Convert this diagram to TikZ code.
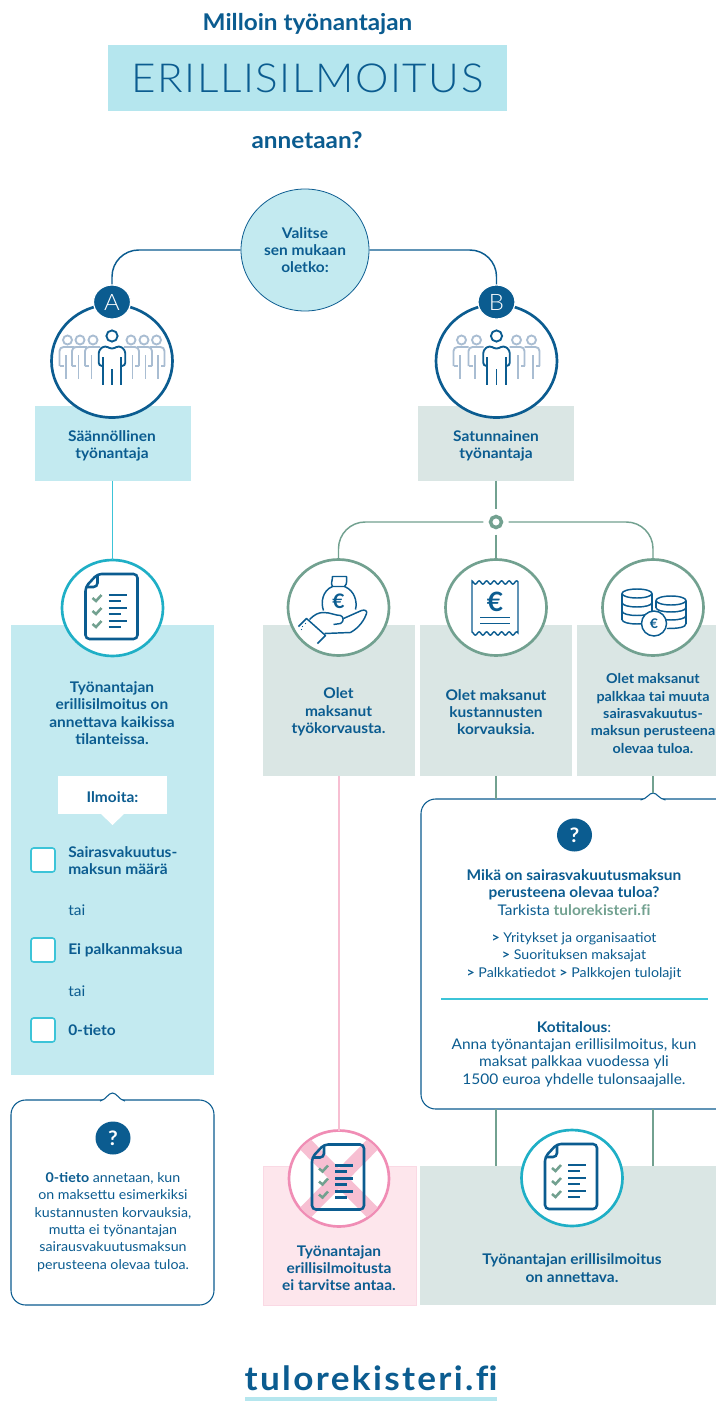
\documentclass[tikz,border=0pt]{standalone}
\usepackage{fontspec}
\setmainfont[FakeStretch=1.055]{Lato}
\newfontfamily\lightfont[FakeStretch=1.055]{Lato Light}
\usetikzlibrary{shapes.geometric}
\definecolor{navy}{HTML}{0B5C90}
\definecolor{pale}{HTML}{A9BDD2}
\definecolor{sky}{HTML}{C3EAF0}
\definecolor{skyd}{HTML}{B5E6EE}
\definecolor{mist}{HTML}{DAE6E4}
\definecolor{sage}{HTML}{72A190}
\definecolor{teal}{HTML}{1FAFC6}
\definecolor{cyan2}{HTML}{3CC4D8}
\definecolor{blush}{HTML}{FDE6EC}
\definecolor{rose}{HTML}{F08DB5}
\definecolor{rosex}{HTML}{F7BFD2}
\def\px{0.75pt}

\begin{document}
\begin{tikzpicture}[x=0.75pt, y=-0.75pt,
  bx/.style={rectangle, inner sep=0pt, outer sep=0pt},
  ring/.style={draw, ellipse, fill=white, inner sep=0pt, outer sep=0pt, line width=2pt, minimum width=101*\px, minimum height=96*\px},
  ringbig/.style={ring, minimum width=121*\px, minimum height=113*\px},
  badge/.style={ellipse, fill=navy, inner sep=0pt, text=white},
  note/.style={draw=navy, fill=white, rectangle, rounded corners=11pt, line width=0.8pt, inner sep=0pt, outer sep=0pt},
  tick/.style={draw=cyan2, fill=white, rounded corners=2pt, line width=1.2pt, inner sep=0pt, minimum width=24*\px, minimum height=24*\px},
  txt/.style={text=navy, align=center, inner sep=0pt, font=\fontsize{11}{13}\selectfont\bfseries},
  txtr/.style={text=navy, align=center, inner sep=0pt, font=\fontsize{11}{13}\selectfont},
  txts/.style={txtr, font=\fontsize{10.1}{13}\selectfont},
  wire/.style={line width=1.1pt, rounded corners=20pt}
]
\useasboundingbox[fill=white] (0,0) rectangle (716,1401);

\def\docicon#1#2{
  \begin{scope}[shift={(#1,#2)}, line width=1.9pt, draw=navy]
    \draw[rounded corners=3pt] (-15,-34) -- (25,-34) -- (25,31) -- (-27,31) -- (-27,-21) -- cycle;
    \draw[rounded corners=3pt] (-15,-33) -- (-15,-21) -- (-26,-21);
    \foreach \y in {-10,3,16} \draw[sage] (-20,\y) -- (-16.5,\y+3) -- (-11,\y-3);
    \foreach \y in {-13,0,13} \draw (-4,\y) -- (14,\y);
    \foreach \y in {-7,6,19} \draw (-4,\y) -- (8,\y);
  \end{scope}
}
\def\peopleicon#1#2#3{
  \begin{scope}[shift={(#1,#2)}, line width=1.4pt]
    \foreach \s in {1,-1} \foreach \d in {#3} {
      \begin{scope}[xscale=\s, shift={(-\d,0)}]
        \draw[pale] (0,-21) circle [radius=4.5];
        \draw[pale, rounded corners=3pt] (7,-14) -- (-8,-14) -- (-8,5);
        \draw[pale] (-8,5) -- (-4,5);
        \draw[pale] (-1.5,-6) -- (-1.5,18);
      \end{scope}
    }
    \draw[navy, fill=white] (0,-25) circle [radius=5.6];
    \draw[navy, rounded corners=2.5pt, fill=white] (-9.3,5) -- (-13.3,5) -- (-13.3,-11) -- (-7,-15.5) -- (0,-11.5) -- (7,-15.5) -- (13.3,-11) -- (13.3,5) -- (9.3,5);
    \foreach \x in {-9.3,0,9.3} \draw[navy] (\x,{\x==0 ? 8 : -4}) -- (\x,24);
  \end{scope}
}

% titles
\node[txt, font=\fontsize{17.3}{20}\selectfont\bfseries] (title1) at (307.5,24) {Milloin työnantajan};
\node[bx, fill=skyd, minimum width=399*\px, minimum height=66*\px] (titlebox) at (307.5,78) {};
\node[text=navy, inner sep=0pt, font=\fontsize{30}{32}\selectfont\lightfont] (title2) at (307.5,78) {\addfontfeature{LetterSpace=4}ERILLISILMOITUS};
\node[txt, font=\fontsize{17.3}{20}\selectfont\bfseries] (title3) at (307,140) {annetaan?};

% start and the two employers
\node[draw=navy, fill=sky, ellipse, inner sep=0pt, line width=0.6pt, minimum width=128*\px, minimum height=122*\px] (start) at (305,250) {};
\node[txt] (starttxt) at (305,250) {Valitse\\sen mukaan\\oletko:};

\node[bx, fill=sky, minimum width=156*\px, minimum height=75*\px] (boxA) at (112.5,443) {};
\node[bx, fill=mist, minimum width=156*\px, minimum height=75*\px] (boxB) at (496,443) {};
\node[ringbig, draw=navy] (ringA) at (112,361) {};
\node[ringbig, draw=navy] (ringB) at (496.5,361) {};
\node[badge, minimum width=37*\px, minimum height=34*\px, draw=white, line width=0.9pt, font=\fontsize{17}{17}\selectfont\lightfont] (badgeA) at (112,302) {A};
\node[badge, minimum width=37*\px, minimum height=34*\px, draw=white, line width=0.9pt, font=\fontsize{17}{17}\selectfont\lightfont] (badgeB) at (496.5,302) {B};
\draw[wire, navy] (start.west) -| (badgeA.north);
\draw[wire, navy] (start.east) -| (badgeB.north);
\peopleicon{112}{361}{19,32,44.5}
\peopleicon{496.5}{361}{20,35}
\node[txt] (boxAtxt) at (112,446) {Säännöllinen\\työnantaja};
\node[txt] (boxBtxt) at (496,446) {Satunnainen\\työnantaja};

% column A
\node[bx, fill=sky, minimum width=203*\px, minimum height=450*\px] (colA) at (112.5,850) {};
\node[ring, draw=teal] (ringdoc) at (112.5,608) {};
\draw[cyan2, line width=1.1pt] (boxA.south) -- (ringdoc.north);
\docicon{112.5}{608}
\node[txt] (colAtxt) at (112,713) {Työnantajan\\erillisilmoitus on\\annettava kaikissa\\tilanteissa.};
\node[bx, fill=white, minimum width=109*\px, minimum height=38*\px] (ilmoita) at (112.5,795) {};
\fill[white] (100,813) -- (112.5,825) -- (125,813) -- cycle;
\node[txt] (ilmoitatxt) at (112.5,797) {Ilmoita:};
\node[tick] (tick1) at (43,860) {};
\node[tick] (tick2) at (43,950) {};
\node[tick] (tick3) at (43,1030) {};
\node[txt, anchor=west, align=left] (tick1txt) at (68,860.5) {Sairasvakuutus-\\maksun määrä};
\node[txtr, anchor=west] (tai1) at (68,910) {tai};
\node[txt, anchor=west] (tick2txt) at (68,950) {Ei palkanmaksua};
\node[txtr, anchor=west] (tai2) at (68,991) {tai};
\node[txt, anchor=west] (tick3txt) at (68,1030) {0-tieto};

% note under column A
\node[note, minimum width=203*\px, minimum height=205*\px] (noteL) at (112.5,1202.5) {};
\draw[navy, fill=white, line width=0.8pt] (100,1101) .. controls (106,1100) and (108,1093) .. (112.5,1093) .. controls (117,1093) and (119,1100) .. (125,1101);
\node[badge, minimum width=35*\px, minimum height=33*\px, font=\fontsize{15}{15}\selectfont\bfseries] (helpL) at (113,1138) {?};
\node[txts] (noteLtxt) at (113,1222) {\textbf{0-tieto} annetaan, kun\\on maksettu esimerkiksi\\kustannusten korvauksia,\\mutta ei työnantajan\\sairausvakuutusmaksun\\perusteena olevaa tuloa.};

% column B
\node[draw=sage, fill=white, circle, line width=2.6pt, minimum size=11*\px, inner sep=0pt] (junc) at (496,522) {};
\node[bx, fill=mist, minimum width=152*\px, minimum height=151*\px] (col1) at (339,700.5) {};
\node[bx, fill=mist, minimum width=152*\px, minimum height=151*\px] (col2) at (496,700.5) {};
\node[bx, fill=mist, minimum width=140*\px, minimum height=151*\px] (col3) at (647,700.5) {};
\node[ring, draw=sage] (ring1) at (338.5,607.5) {};
\node[ring, draw=sage] (ring2) at (496,607.5) {};
\node[ring, draw=sage] (ring3) at (653,607.5) {};
\draw[sage, line width=1.1pt, shorten >=4pt] (boxB.south) -- (junc.north);
\draw[wire, sage, shorten <=4pt] (junc.west) -| (ring1.north);
\draw[wire, sage, shorten <=4pt] (junc.east) -| (ring3.north);
\draw[sage, line width=1.1pt, shorten <=4pt] (junc.south) -- (ring2.north);

\begin{scope}[shift={(338.5,607.5)}, navy, line width=1.1pt, line join=round]
  \draw (-6,-21) .. controls (-8,-24) and (-6,-27) .. (-6,-31) -- (8,-31) .. controls (8,-27) and (9,-24) .. (6,-21) -- cycle;
  \draw (-6,-21) .. controls (-16,-17) and (-18,-5) .. (-15,3);
  \draw (6,-21) .. controls (16,-17) and (19,-6) .. (17,2);
  \node[inner sep=0pt, font=\fontsize{15}{15}\selectfont\bfseries] (euro1) at (0,-6) {€};
  \draw (-29,12) .. controls (-24,7) and (-20,5) .. (-15,5) .. controls (-8,5) and (-3,8) .. (2,8) .. controls (5,9) and (6,14) .. (2,16) -- (-5,17);
  \draw (5,11) -- (23,3) .. controls (26,2) and (29,3) .. (28,6) .. controls (26,12) and (21,20) .. (12,25) -- (-14,26);
  \draw (-40,19) -- (-32,11) -- (-13,28) -- (-21,36);
  \foreach \x/\y in {-36/19,-33/16,-37/22} \fill (\x,\y) circle [radius=0.7];
\end{scope}

\begin{scope}[shift={(496,607.5)}, navy, line width=1.1pt]
  \draw plot[domain=-24:22, samples=70] (\x,{-25+1.6*sin(\x*48)}) -- plot[domain=22:-24, samples=70] (\x,{26+1.6*sin(\x*48)}) -- cycle;
  \node[inner sep=0pt, font=\fontsize{20}{20}\selectfont\bfseries] (euro2) at (-1,-6) {€};
  \draw (-16,10) -- (14,10);
  \draw (-16,16) -- (14,16);
\end{scope}

\begin{scope}[shift={(653,607.5)}, navy, line width=1.1pt]
  \draw (-16,-14) ellipse [x radius=15, y radius=4.5];
  \draw (-31,-14) -- (-31,12) (-1,-14) -- (-1,3);
  \foreach \y in {-5,3.5,12} \draw (-31,\y) .. controls (-31,\y+6) and (-1,\y+6) .. (-1,\y);
  \draw (18,-7) ellipse [x radius=15, y radius=4.5];
  \draw (3,-7) -- (3,0) (33,-7) -- (33,16);
  \foreach \y in {0,8} \draw (3,\y) .. controls (3,\y+6) and (33,\y+6) .. (33,\y);
  \draw (33,16) .. controls (33,20) and (25,21) .. (14,21);
  \node[circle, draw=navy, fill=white, line width=1.1pt, minimum size=25*\px, inner sep=0pt, font=\fontsize{10}{10}\selectfont\bfseries] (euro3) at (1,16) {€};
\end{scope}

\node[txt] (col1txt) at (338.5,712) {Olet\\maksanut\\työkorvausta.};
\node[txt] (col2txt) at (496,712) {Olet maksanut\\kustannusten\\korvauksia.};
\node[txt, font=\fontsize{10.2}{13}\selectfont\bfseries] (col3txt) at (653,713.5) {Olet maksanut\\palkkaa tai muuta\\sairasvakuutus-\\maksun perusteena\\olevaa tuloa.};

% results
\node[bx, fill=blush, draw=rosex!60, line width=0.6pt, minimum width=153*\px, minimum height=139*\px] (resno) at (339.5,1235.5) {};
\node[bx, fill=mist, minimum width=296*\px, minimum height=139*\px] (resyes) at (568,1235.5) {};
\node[ring, draw=rose, minimum width=100*\px] (ringno) at (339,1178.5) {};
\node[ring, draw=teal] (ringyes) at (572,1178) {};
\draw[rosex, line width=1.1pt] (col1.south) -- (ringno.north);
\begin{scope}
  \clip (339,1178.5) ellipse [x radius=49, y radius=47];
  \draw[rosex, line width=11pt] (304,1143) -- (374,1214) (374,1143) -- (304,1214);
\end{scope}
\docicon{339}{1178.5}
\docicon{572}{1178}
\node[txt] (resnotxt) at (339,1268) {Työnantajan\\erillisilmoitusta\\ei tarvitse antaa.};
\node[txt] (resyestxt) at (572,1268) {Työnantajan erillisilmoitus\\on annettava.};

% note in column B
\node[note, minimum width=310*\px, minimum height=310*\px] (noteR) at (576,954) {};
\draw[navy, fill=white, line width=0.8pt] (640.5,800) .. controls (647,799) and (649,793) .. (653,793) .. controls (657,793) and (659,799) .. (665.5,800);
\coordinate (tipR) at (653,793);
\draw[sage, line width=1.1pt] (col2.south) -- (col2.south |- noteR.north);
\draw[sage, line width=1.1pt] (col2.south |- noteR.south) -- (col2.south |- resyes.north);
\draw[sage, line width=1.1pt] (col3.south -| tipR) -- (tipR);
\draw[sage, line width=1.1pt] (tipR |- noteR.south) -- (tipR |- resyes.north);
\node[badge, minimum width=35*\px, minimum height=33*\px, font=\fontsize{15}{15}\selectfont\bfseries] (helpR) at (574.5,835) {?};
\node[txt] (noteRtxt1) at (574,892.5) {Mikä on sairasvakuutusmaksun\\perusteena olevaa tuloa?\\{\mdseries Tarkista }\textcolor{sage}{tulorekisteri.f\kern0pt i}};
\node[txts] (noteRtxt2) at (574,956) {\textbf{>} Yritykset ja organisaatiot\\\textbf{>} Suorituksen maksajat\\\textbf{>} Palkkatiedot \textbf{>} Palkkojen tulolajit};
\coordinate (ruleL) at (441,999);
\coordinate (ruleR) at (708,999);
\draw[cyan2, line width=0.9pt] (ruleL) -- (ruleR);
\node[txtr] (noteRtxt3) at (574,1054) {\textbf{Kotitalous}:\\Anna työnantajan erillisilmoitus, kun\\maksat palkkaa vuodessa yli\\1500 euroa yhdelle tulonsaajalle.};

% footer
\node[txt, font=\fontsize{25}{26}\selectfont\bfseries] (footer) at (371,1378) {\addfontfeature{LetterSpace=7}tulorekisteri.f\kern0pt i};
\node[bx, fill=skyd, minimum width=252*\px, minimum height=4*\px] (footbar) at (371,1399) {};
\end{tikzpicture}
\end{document}
